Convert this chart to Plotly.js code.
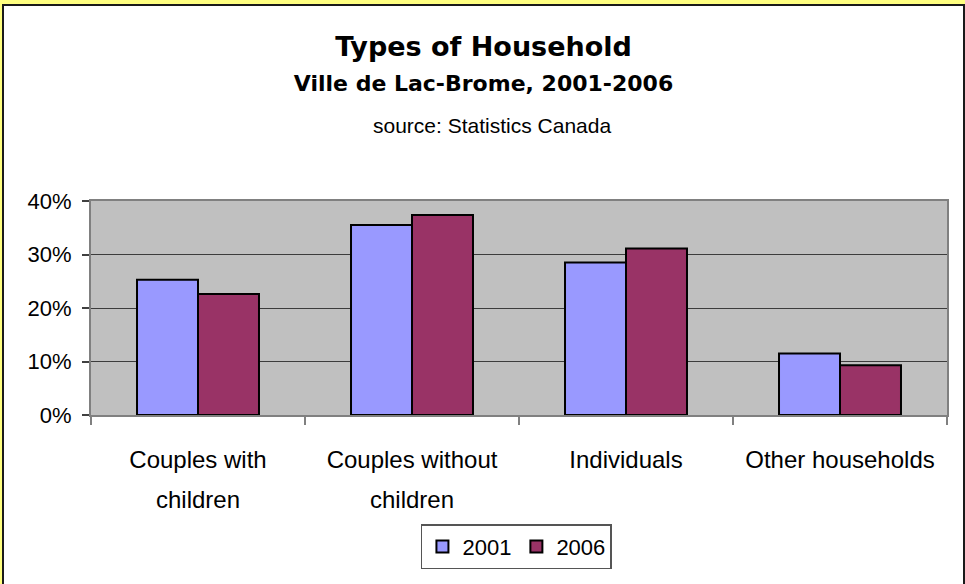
<!DOCTYPE html>
<html>
<head>
<meta charset="utf-8">
<script src="https://cdn.plot.ly/plotly-3.0.1.min.js"></script>
<style>
  html, body { margin:0; padding:0; background:#ffff80; overflow:hidden; }
  #chart { position:absolute; left:2px; top:4px; width:959px; height:580px; border:2px solid #1a1a1a; background:#fff; }
</style>
</head>
<body>
<div id="chart"></div>
<script>
// ---- Data ----
const categories = ['Couples with children', 'Couples without children', 'Individuals', 'Other households'];
const tickLabels = ['Couples with<br>children', 'Couples without<br>children', 'Individuals', 'Other households'];
const years = ['2001', '2006'];
const values2001 = [0.253, 0.355, 0.285, 0.115];
const values2006 = [0.226, 0.374, 0.311, 0.093];
const colors = ['#9999ff', '#993366'];

const series = [values2001, values2006];

const traces = series.map((vals, i) => ({
  type: 'bar',
  name: years[i],
  x: categories,
  y: vals,
  marker: { color: colors[i], line: { color: '#000', width: 2 } },
  hovertemplate: '%{x}: %{y:.1%}<extra>' + years[i] + '</extra>'
}));

// tick labels: bigger base font only to widen the line spacing, glyphs drawn at 24px
const tickText = tickLabels.map(t => t.split('<br>').map(l => `<span style="font-size:24px">${l}</span>`).join('<br>'));

const layout = {
  width: 959, height: 580,
  margin: { l: 87, r: 16, t: 195, b: 171 },
  paper_bgcolor: '#ffffff',
  plot_bgcolor: '#c0c0c0',
  font: { family: '"Liberation Sans", Arial, sans-serif', color: '#000', size: 22 },
  title: {
    text: '<b>Types of Household</b><br><b><span style="font-size:22px">Ville de Lac-Brome, 2001-2006</span></b>',
    font: { family: '"DejaVu Sans", Verdana, sans-serif', size: 27, color: '#000' },
    x: 0.5, xanchor: 'center', xref: 'container',
    y: 1 - 50 / 580, yanchor: 'top', yref: 'container'
  },
  annotations: [{
    text: 'source: Statistics Canada',
    xref: 'paper', yref: 'paper', x: 0.468, y: 1.355,
    xanchor: 'center', yanchor: 'middle', showarrow: false,
    font: { family: '"Liberation Sans", Arial, sans-serif', size: 21, color: '#000' }
  }],
  barmode: 'group',
  bargap: 0.43,
  bargroupgap: 0,
  xaxis: {
    type: 'category',
    tickmode: 'array', tickvals: categories, ticktext: tickText,
    tickson: 'boundaries', ticks: 'outside', ticklen: 8, tickwidth: 1.5, tickcolor: '#808080',
    tickfont: { size: 30.8 }, ticklabelstandoff: 14,
    showline: true, linecolor: '#808080', linewidth: 2, mirror: true,
    showgrid: false, zeroline: false, fixedrange: true
  },
  yaxis: {
    range: [0, 0.4], dtick: 0.1, tickformat: '.0%',
    ticks: 'outside', ticklen: 7, tickwidth: 1.5, tickcolor: '#404040',
    tickfont: { size: 22 }, ticklabelstandoff: 6,
    showgrid: true, gridcolor: '#3c3c3c', gridwidth: 1,
    showline: true, linecolor: '#808080', linewidth: 2, mirror: true,
    zeroline: false, fixedrange: true
  },
  showlegend: true,
  legend: {
    orientation: 'h', x: 0.497, xanchor: 'center', y: -0.51, yanchor: 'top',
    bgcolor: '#fff', bordercolor: '#555', borderwidth: 1.5,
    font: { size: 22 }, itemwidth: 30
  }
};

const config = { displayModeBar: false, responsive: false };
Plotly.newPlot('chart', traces, layout, config);
</script>
</body>
</html>
